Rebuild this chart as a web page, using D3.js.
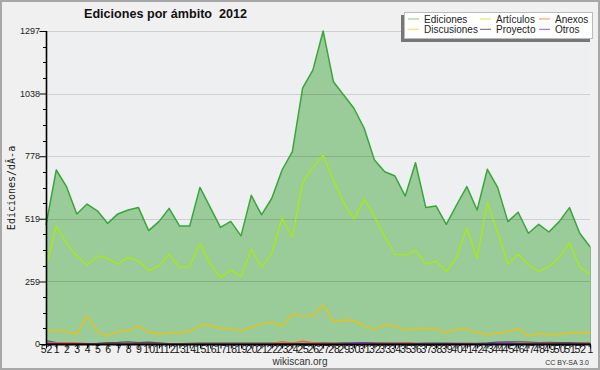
<!DOCTYPE html>
<html><head><meta charset="utf-8">
<script src="https://cdn.jsdelivr.net/npm/d3@7"></script>
<style>
html,body{margin:0;padding:0;background:#f0f0f0;}
svg{display:block;}
text{font-family:"Liberation Sans",Arial,sans-serif;}
</style></head>
<body>
<svg id="c" width="600" height="370"></svg>
<script>
// Week labels (52 of 2011 .. 1 of 2013)
const weeks = ["52"].concat(d3.range(1,53).map(String)).concat(["1"]);
const yTicks = [0,259,519,778,1038,1297];
const yMax = 1297;

const ediciones = [493,721,652,539,580,552,500,539,555,566,470,507,562,489,489,649,566,483,508,448,
  616,535,604,721,797,1060,1135,1297,1087,1032,977,894,762,714,696,613,751,566,572,496,
  576,652,555,724,649,507,546,459,496,464,507,565,459,403];
const articulos = [320,489,417,365,327,365,355,331,359,345,304,323,372,318,320,417,331,276,307,279,
  392,318,376,521,442,669,732,783,680,586,517,600,528,445,372,368,387,331,343,301,
  359,481,355,586,465,331,372,327,301,320,358,420,318,289];
const discusiones = [51,58,52,41,116,52,33,52,52,75,50,41,44,48,52,77,77,65,65,55,
  69,83,91,75,124,116,116,160,95,99,98,75,61,79,75,57,65,65,61,47,
  61,61,47,39,47,50,65,32,44,37,39,47,47,47];
const proyecto = [14,6,4,2,2,3,6,7,9,6,8,5,2,2,3,4,4,4,4,4,4,4,4,3,4,3,5,5,4,5,4,5,5,5,4,5,3,4,4,4,
  3,3,3,5,8,9,9,8,6,7,6,6,5,5];
const anexos = [5,5,6,5,3,2,2,2,2,2,2,2,2,2,2,2,2,2,2,2,2,2,3,10,4,12,6,4,3,2,2,2,3,4,3,5,3,2,2,3,
  3,3,2,2,2,2,3,3,3,3,2,2,3,4];
const otros = [3,2,1,1,1,1,0,0,0,0,0,0,0,0,0,0,0,0,0,0,0,0,0,0,0,0,0,0,0,1,5,6,2,1,1,1,1,1,1,2,
  2,1,1,1,4,5,2,1,1,1,1,1,1,1];

const legendNames = ["Ediciones","Artículos","Anexos","Discusiones","Proyecto","Otros"];
const legendColors = ["#88cc88","#ccee55","#ff8855","#ffd545","#666666","#9955ee"];

const svg = d3.select("#c");
const W = 600, H = 370;
const x = d3.scaleLinear().domain([0, weeks.length-1]).range([46, 590]);
const y = d3.scaleLinear().domain([0, yMax]).range([344, 31]);

// background & frame
svg.append("rect").attr("x",1).attr("y",1).attr("width",W-2).attr("height",H-2)
  .attr("fill","#f0f0f0").attr("stroke","#a8a8a8").attr("stroke-width",2);
svg.append("rect").attr("x",46).attr("y",31).attr("width",544).attr("height",313).attr("fill","#eeeff1");

// area
const idx = d3.range(weeks.length);
svg.append("path").datum(idx)
  .attr("d", d3.area().x(i=>x(i)).y0(y(0)).y1(i=>y(ediciones[i])))
  .attr("fill","#99cc99");

// gridlines
svg.append("g").selectAll("line").data(yTicks.slice(1)).join("line")
  .attr("x1",46).attr("x2",590).attr("y1",d=>Math.round(y(d))+0.5).attr("y2",d=>Math.round(y(d))+0.5)
  .attr("stroke","#000").attr("stroke-opacity",0.13).attr("stroke-width",1);
// right edge of area
svg.append("line").attr("x1",590.5).attr("x2",590.5).attr("y1",y(ediciones[ediciones.length-1])).attr("y2",344)
  .attr("stroke","#88bb88").attr("stroke-width",1);

const line = arr => d3.line().x(i=>x(i)).y(i=>y(arr[i]))(idx);
const series = [
  [proyecto,"#555555",1.2],
  [anexos,"#ff6622",1.2],
  [otros,"#7733dd",1.2],
  [discusiones,"#f5c000",1.2],
  [articulos,"#aaee00",1.2],
  [ediciones,"#3aa53a",1.5]
];
series.forEach(([arr,col,w])=>{
  svg.append("path").attr("d",line(arr)).attr("fill","none").attr("stroke",col).attr("stroke-width",w)
    .attr("stroke-linejoin","round");
});

// y axis
const yAxis = d3.axisLeft(y).tickValues(yTicks).tickSize(7).tickFormat(d3.format("d"));
const gy = svg.append("g").attr("transform","translate(46.5,0)").call(yAxis);
gy.select(".domain").remove();
gy.selectAll(".tick line").attr("stroke","#000");
gy.selectAll(".tick text").attr("font-size",9).attr("fill","#222").attr("x",-6.5).attr("dy","0.3em")
  .style("font-family","'Liberation Sans',Arial,sans-serif");
const minor = d3.range(0,21).map(k=>k*yMax/20).filter((d,k)=>k%4!==0);
svg.append("g").selectAll("line").data(minor).join("line")
  .attr("x1",43).attr("x2",46.5).attr("y1",d=>Math.round(y(d))+0.5).attr("y2",d=>Math.round(y(d))+0.5)
  .attr("stroke","#000");
svg.append("line").attr("x1",46.5).attr("x2",46.5).attr("y1",31).attr("y2",345).attr("stroke","#000").attr("stroke-width",1.6);

// x axis
const xAxis = d3.axisBottom(x).tickValues(idx).tickSize(4).tickFormat(i=>weeks[i]);
const gx = svg.append("g").attr("transform","translate(0,344.5)").call(xAxis);
gx.select(".domain").remove();
gx.selectAll(".tick line").attr("stroke","#000");
gx.selectAll(".tick text").attr("font-size",10.5).attr("fill","#111").attr("y",1.5).attr("dy","0.71em")
  .style("font-family","'Liberation Sans',Arial,sans-serif");
svg.append("line").attr("x1",46).attr("x2",591).attr("y1",344.5).attr("y2",344.5).attr("stroke","#000").attr("stroke-width",1.8);

// titles
svg.append("text").attr("x",84).attr("y",18).attr("font-size",12.6).attr("font-weight","bold").attr("fill","#111")
  .text("Ediciones por ámbito  2012").attr("xml:space","preserve").style("white-space","pre");
svg.append("text").attr("transform","translate(15,188) rotate(-90)").attr("text-anchor","middle")
  .attr("font-size",10).style("font-family","'DejaVu Sans Mono',monospace").attr("fill","#222")
  .text("Ediciones/dÃ-a");
svg.append("text").attr("x",300).attr("y",365).attr("text-anchor","middle").attr("font-size",10).attr("fill","#333")
  .text("wikiscan.org");
svg.append("text").attr("x",589).attr("y",364.5).attr("text-anchor","end").attr("font-size",7).attr("fill","#333")
  .text("CC BY-SA 3.0");

// legend
svg.append("rect").attr("x",401).attr("y",15).attr("width",189).attr("height",27).attr("fill","#777");
svg.append("rect").attr("x",404.5).attr("y",12.5).attr("width",188).attr("height",26).attr("fill","#fff").attr("stroke","#bbb");
const colX = [408,480,539], rowY = [19,29.3];
legendNames.forEach((n,k)=>{
  const c = k%3, r = Math.floor(k/3);
  svg.append("line").attr("x1",colX[c]).attr("x2",colX[c]+11).attr("y1",rowY[r]).attr("y2",rowY[r])
    .attr("stroke",legendColors[k]).attr("stroke-width",1);
  svg.append("text").attr("x",colX[c]+16).attr("y",rowY[r]+3.5).attr("font-size",10).attr("fill","#222").text(n);
});
</script>
</body></html>
